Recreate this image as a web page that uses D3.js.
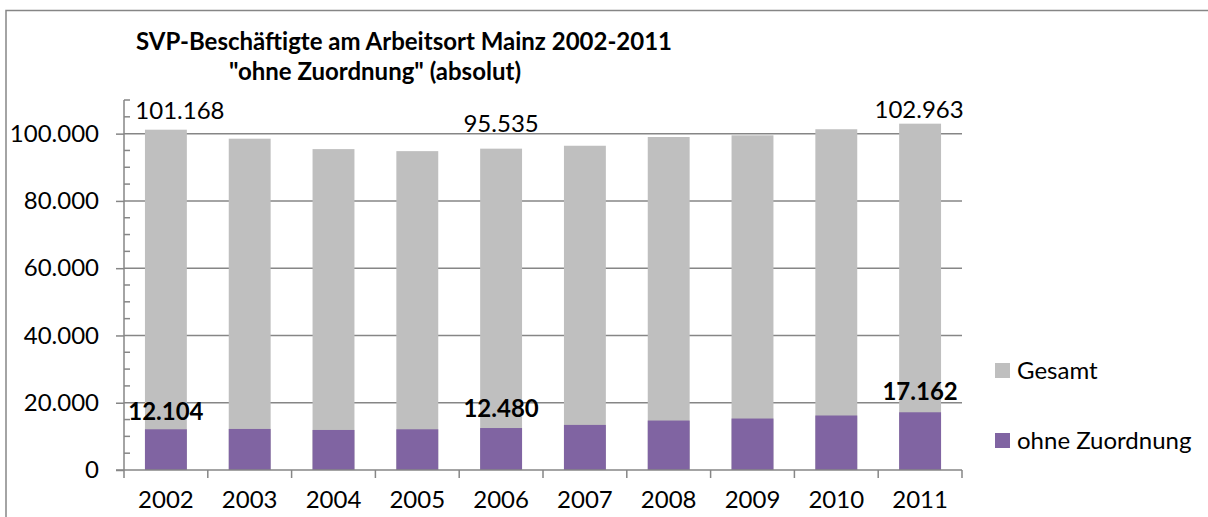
<!DOCTYPE html>
<html>
<head>
<meta charset="utf-8">
<script src="https://cdn.jsdelivr.net/npm/d3@7"></script>
<style>
  html, body { margin: 0; padding: 0; background: #fff; overflow: hidden; }
  svg { display: block; font-family: Lato, "Open Sans", sans-serif; }
</style>
</head>
<body>
<div id="chart"></div>
<script>
const years = ['2002', '2003', '2004', '2005', '2006', '2007', '2008', '2009', '2010', '2011'];
const gesamt = [101168, 98500, 95400, 94800, 95535, 96400, 99000, 99500, 101300, 102963];
const ohneZuordnung = [12104, 12200, 11900, 12100, 12480, 13400, 14700, 15300, 16200, 17162];
const yTicks = [0, 20000, 40000, 60000, 80000, 100000];
const titleLines = ['SVP-Beschäftigte am Arbeitsort Mainz 2002-2011', '"ohne Zuordnung" (absolut)'];
const seriesNames = ['Gesamt', 'ohne Zuordnung'];

// which bars carry a value label (index into years)
const gesamtLabels = [0, 4, 9];
const ohneLabels = [0, 4, 9];

const width = 1208;
const height = 517;
const margin = { top: 100, right: 246, bottom: 47, left: 124 };
const innerWidth = width - margin.left - margin.right;
const innerHeight = height - margin.top - margin.bottom;

const colorGesamt = '#bfbfbf';
const colorOhne = '#8064a2';
const axisColor = '#868686';
const fontSize = '24px';

const de = d3.formatLocale({ decimal: ',', thousands: '.', grouping: [3], currency: ['', ' €'] });
const fmt = de.format(',d');

const svg = d3.select('#chart')
  .append('svg')
  .attr('width', width)
  .attr('height', height);

// outer chart frame (only left and top edges are inside the picture)
svg.append('path')
  .attr('d', `M6,${height} V10.5 H${width}`)
  .attr('fill', 'none')
  .attr('stroke', axisColor)
  .attr('stroke-width', 1.5);

// title
svg.selectAll('.title')
  .data(titleLines)
  .enter()
  .append('text')
  .attr('class', 'title')
  .attr('x', (d, i) => i === 0 ? 404 : 375)
  .attr('y', (d, i) => 50 + i * 30)
  .attr('text-anchor', 'middle')
  .attr('font-size', fontSize)
  .attr('font-weight', '700')
  .attr('fill', '#000')
  .text(d => d);

const g = svg.append('g')
  .attr('transform', `translate(${margin.left},${margin.top})`);

const x = d3.scaleBand()
  .domain(years)
  .range([0, innerWidth])
  .paddingInner(0.5)
  .paddingOuter(0.25);

const xBounds = d3.scaleBand()
  .domain(years)
  .range([0, innerWidth]);

const y = d3.scaleLinear()
  .domain([0, 110000])
  .range([innerHeight, 0]);

// 1. Gridlines
g.append('g')
  .selectAll('line')
  .data(yTicks.filter(d => d > 0))
  .enter()
  .append('line')
  .attr('x1', 0)
  .attr('x2', innerWidth)
  .attr('y1', d => y(d))
  .attr('y2', d => y(d))
  .attr('stroke', axisColor)
  .attr('stroke-width', 1.5);

// 2. Bars: Gesamt behind, ohne Zuordnung in front (overlapping)
g.append('g')
  .selectAll('rect')
  .data(gesamt)
  .enter()
  .append('rect')
  .attr('x', (d, i) => x(years[i]))
  .attr('y', d => y(d))
  .attr('width', x.bandwidth())
  .attr('height', d => innerHeight - y(d))
  .attr('fill', colorGesamt);

g.append('g')
  .selectAll('rect')
  .data(ohneZuordnung)
  .enter()
  .append('rect')
  .attr('x', (d, i) => x(years[i]))
  .attr('y', d => y(d))
  .attr('width', x.bandwidth())
  .attr('height', d => innerHeight - y(d))
  .attr('fill', colorOhne);

// 3. Y axis: major ticks outside, minor ticks inside
const yAxis = g.append('g')
  .call(d3.axisLeft(y).tickValues(yTicks).tickSize(8).tickFormat(d => fmt(d)).tickPadding(17));
yAxis.select('.domain').remove();
yAxis.selectAll('.tick line').attr('stroke', axisColor).attr('stroke-width', 1.5);
yAxis.selectAll('text')
  .attr('fill', '#000')
  .attr('font-size', fontSize)
  .attr('font-family', 'Lato, "Open Sans", sans-serif');

g.append('g')
  .selectAll('line')
  .data(d3.range(5000, 110001, 5000).filter(d => d % 20000 !== 0))
  .enter()
  .append('line')
  .attr('x1', 0)
  .attr('x2', 6)
  .attr('y1', d => y(d))
  .attr('y2', d => y(d))
  .attr('stroke', axisColor)
  .attr('stroke-width', 1.5);

g.append('line')
  .attr('x1', 0).attr('x2', 0)
  .attr('y1', y(110000)).attr('y2', innerHeight)
  .attr('stroke', axisColor)
  .attr('stroke-width', 1.5);

// 4. X axis with ticks between categories
g.append('line')
  .attr('x1', -8).attr('x2', innerWidth)
  .attr('y1', innerHeight).attr('y2', innerHeight)
  .attr('stroke', axisColor)
  .attr('stroke-width', 1.5);

g.append('g')
  .selectAll('line')
  .data(years.map(d => xBounds(d)).concat([innerWidth]))
  .enter()
  .append('line')
  .attr('x1', d => d).attr('x2', d => d)
  .attr('y1', innerHeight).attr('y2', innerHeight + 8)
  .attr('stroke', axisColor)
  .attr('stroke-width', 1.5);

g.append('g')
  .selectAll('text')
  .data(years)
  .enter()
  .append('text')
  .attr('x', d => x(d) + x.bandwidth() / 2)
  .attr('y', innerHeight + 38)
  .attr('text-anchor', 'middle')
  .attr('font-size', fontSize)
  .attr('fill', '#000')
  .text(d => d);

// 5. Value labels (positions nudged like the original)
const gesamtNudge = { 0: [14, -11], 4: [0, -17], 9: [-1, -6] };
g.append('g')
  .selectAll('text')
  .data(gesamtLabels)
  .enter()
  .append('text')
  .attr('x', i => x(years[i]) + x.bandwidth() / 2 + gesamtNudge[i][0])
  .attr('y', i => y(gesamt[i]) + gesamtNudge[i][1])
  .attr('text-anchor', 'middle')
  .attr('font-size', fontSize)
  .attr('fill', '#000')
  .text(i => fmt(gesamt[i]));

const ohneNudge = { 0: [0, -9], 4: [0, -11], 9: [0, -12] };
g.append('g')
  .selectAll('text')
  .data(ohneLabels)
  .enter()
  .append('text')
  .attr('x', i => x(years[i]) + x.bandwidth() / 2 + ohneNudge[i][0])
  .attr('y', i => y(ohneZuordnung[i]) + ohneNudge[i][1])
  .attr('text-anchor', 'middle')
  .attr('font-size', fontSize)
  .attr('font-weight', '700')
  .attr('fill', '#000')
  .text(i => fmt(ohneZuordnung[i]));

// 6. Legend
const legend = svg.append('g')
  .attr('transform', 'translate(995,363)');
const legendItems = legend.selectAll('g')
  .data(seriesNames)
  .enter()
  .append('g')
  .attr('transform', (d, i) => `translate(0,${i * 70})`);
legendItems.append('rect')
  .attr('width', 15)
  .attr('height', 15)
  .attr('fill', (d, i) => i === 0 ? colorGesamt : colorOhne);
legendItems.append('text')
  .attr('x', 22)
  .attr('y', 16)
  .attr('font-size', fontSize)
  .attr('fill', '#000')
  .text(d => d);
</script>
</body>
</html>
